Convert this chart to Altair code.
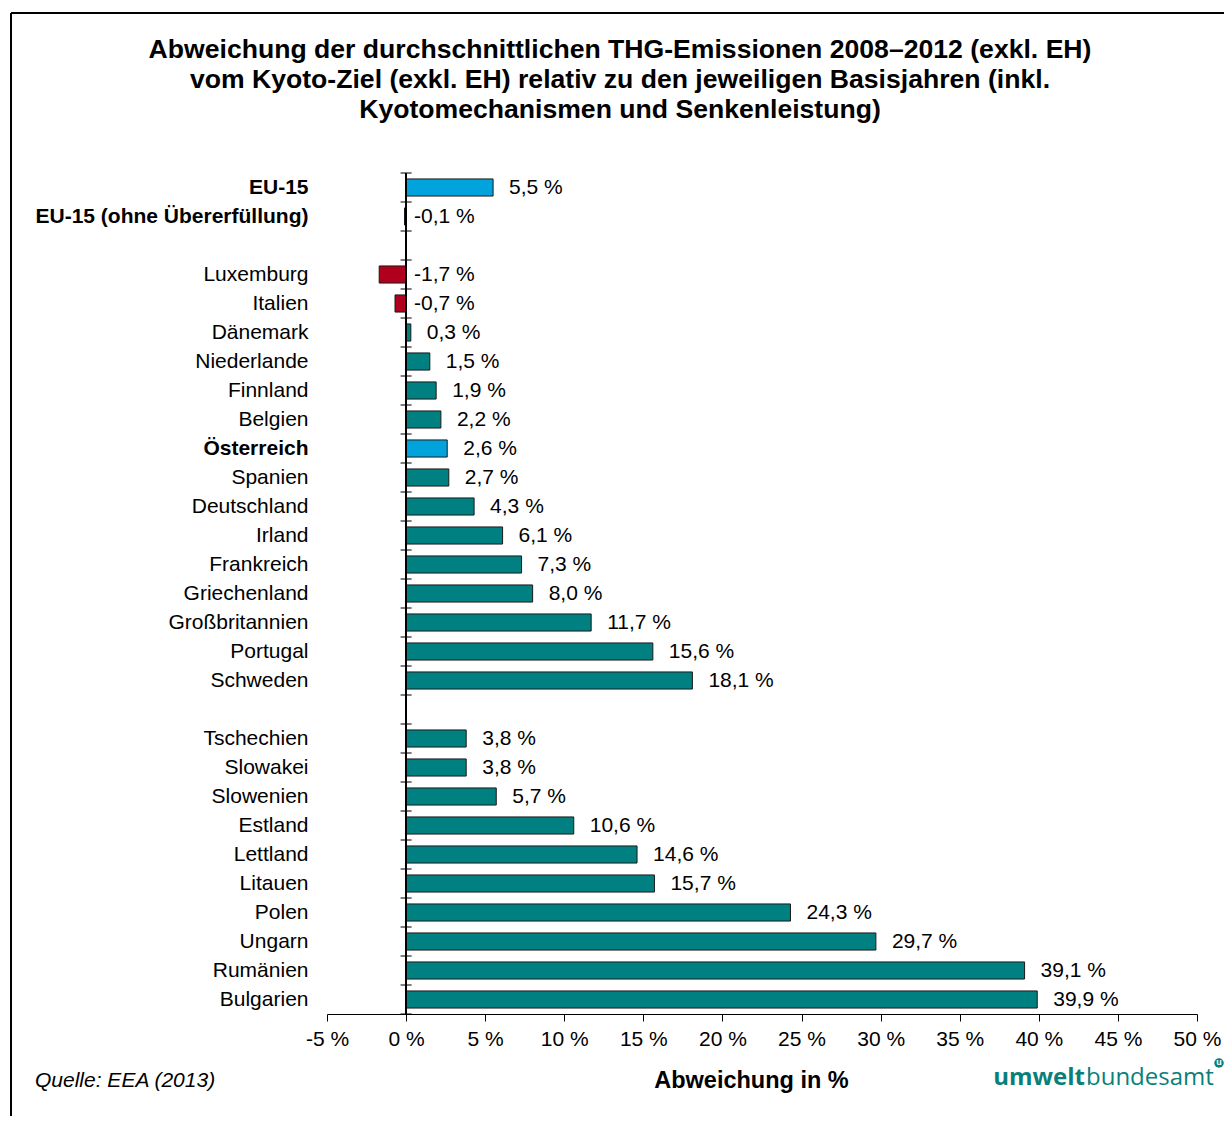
import altair as alt
import pandas as pd

# ---------------- data ----------------
categories = [
    "EU-15", "EU-15 (ohne Übererfüllung)", " ",
    "Luxemburg", "Italien", "Dänemark", "Niederlande", "Finnland", "Belgien",
    "Österreich", "Spanien", "Deutschland", "Irland", "Frankreich",
    "Griechenland", "Großbritannien", "Portugal", "Schweden", "  ",
    "Tschechien", "Slowakei", "Slowenien", "Estland", "Lettland", "Litauen",
    "Polen", "Ungarn", "Rumänien", "Bulgarien",
]
values = [
    5.5, -0.1, None,
    -1.7, -0.7, 0.3, 1.5, 1.9, 2.2,
    2.6, 2.7, 4.3, 6.1, 7.3,
    8.0, 11.7, 15.6, 18.1, None,
    3.8, 3.8, 5.7, 10.6, 14.6, 15.7,
    24.3, 29.7, 39.1, 39.9,
]
highlight = ["EU-15", "Österreich"]
bold_labels = ["EU-15", "EU-15 (ohne Übererfüllung)", "Österreich"]
x_ticks = [-5, 0, 5, 10, 15, 20, 25, 30, 35, 40, 45, 50]
title_lines = [
    "Abweichung der durchschnittlichen THG-Emissionen 2008–2012 (exkl. EH)",
    "vom Kyoto-Ziel (exkl. EH) relativ zu den jeweiligen Basisjahren (inkl.",
    "Kyotomechanismen und Senkenleistung)",
]
x_title = "Abweichung in %"
source_text = "Quelle: EEA (2013)"
logo_bold = "umwelt"
logo_light = "bundesamt"

# ---------------- styling ----------------
FONT = "Liberation Sans, Arial, sans-serif"
TEAL = "#008080"
BLUE = "#00A3DC"
RED = "#B0001E"
W, H = 870, 841

df = pd.DataFrame({"cat": categories, "val": values})
bars_df = df.dropna().copy()
bars_df["grp"] = [
    "hl" if c in highlight else ("neg" if v < 0 else "pos")
    for c, v in zip(bars_df["cat"], bars_df["val"])
]
bars_df["label"] = [f"{v:.1f}".replace(".", ",") + " %" for v in bars_df["val"]]
bars_df["lpos"] = bars_df["val"].clip(lower=0)

yscale = alt.Scale(domain=categories, paddingInner=0, paddingOuter=0)
xscale = alt.Scale(domain=[-5, 50], nice=False, zero=False)

bold_test = "indexof(" + str(bold_labels) + ", datum.value) >= 0"

x_axis = alt.Axis(
    values=x_ticks,
    labelExpr="datum.value + ' %'",
    domainColor="black",
    tickColor="black",
    tickSize=7,
    labelFontSize=21,
    labelColor="black",
    labelPadding=7,
    labelFlush=False,
    grid=False,
    title=x_title,
    titleFontSize=23.5,
    titleFontWeight="bold",
    titleColor="black",
    titleX=424,
    titleY=66,
    titleBaseline="middle",
    titleAlign="center",
)
y_axis = alt.Axis(
    title=None,
    domain=False,
    ticks=False,
    grid=False,
    labelPadding=19,
    labelFontSize=21,
    labelColor="black",
    labelLimit=400,
    labelFontWeight={
        "condition": {"test": bold_test, "value": "bold"},
        "value": "normal",
    },
)

bars = alt.Chart(bars_df).mark_bar(
    height={"band": 0.59}, stroke="#1a1a1a", strokeWidth=1
).encode(
    x=alt.X("val:Q", scale=xscale, axis=x_axis),
    x2=alt.X2(datum=0),
    y=alt.Y("cat:N", scale=yscale, sort=categories, axis=y_axis),
    color=alt.Color(
        "grp:N",
        scale=alt.Scale(domain=["pos", "neg", "hl"], range=[TEAL, RED, BLUE]),
        legend=None,
    ),
)

zero_rule = alt.Chart(bars_df).mark_rule(color="black", strokeWidth=1).encode(
    x=alt.X(datum=0, scale=xscale, axis=x_axis)
)

ticks_start = alt.Chart(df).mark_rule(color="black", strokeWidth=1).encode(
    y=alt.Y("cat:N", scale=yscale, sort=categories, bandPosition=0, axis=y_axis),
    x=alt.X(datum=-0.35, scale=xscale, axis=x_axis),
    x2=alt.X2(datum=0.35),
)
ticks_end = alt.Chart(df.tail(1)).mark_rule(color="black", strokeWidth=1).encode(
    y=alt.Y("cat:N", scale=yscale, sort=categories, bandPosition=1, axis=y_axis),
    x=alt.X(datum=-0.35, scale=xscale, axis=x_axis),
    x2=alt.X2(datum=0.35),
)

pos_labels = alt.Chart(bars_df[bars_df["val"] >= 0]).mark_text(
    align="left", baseline="middle", dx=16, fontSize=21, color="black"
).encode(
    x=alt.X("lpos:Q", scale=xscale, axis=x_axis),
    y=alt.Y("cat:N", scale=yscale, sort=categories, axis=y_axis),
    text="label:N",
)
neg_labels = alt.Chart(bars_df[bars_df["val"] < 0]).mark_text(
    align="left", baseline="middle", dx=8, fontSize=21, color="black"
).encode(
    x=alt.X("lpos:Q", scale=xscale, axis=x_axis),
    y=alt.Y("cat:N", scale=yscale, sort=categories, axis=y_axis),
    text="label:N",
)

# title lines
title_layers = []
for i, line in enumerate(title_lines):
    title_layers.append(
        alt.Chart(pd.DataFrame({"t": [line]})).mark_text(
            align="center", baseline="middle", fontSize=26.6, fontWeight="bold",
            color="black",
        ).encode(x=alt.value(293), y=alt.value(-123 + 30 * i), text="t:N")
    )

one = pd.DataFrame({"a": [0]})
frame_left = alt.Chart(one).mark_rule(color="black", strokeWidth=2).encode(
    x=alt.value(-316), y=alt.value(-160), y2=alt.value(943)
)
frame_top = alt.Chart(one).mark_rule(color="black", strokeWidth=2).encode(
    x=alt.value(-316), x2=alt.value(897), y=alt.value(-160)
)

source = alt.Chart(pd.DataFrame({"t": [source_text]})).mark_text(
    align="left", baseline="middle", fontSize=21, fontStyle="italic", color="black"
).encode(x=alt.value(-292), y=alt.value(908), text="t:N")

logo1 = alt.Chart(pd.DataFrame({"t": [logo_bold]})).mark_text(
    align="right", baseline="middle", fontSize=24, fontWeight="bold",
    color="#0a7f7a", font="Open Sans",
).encode(x=alt.value(758), y=alt.value(905), text="t:N")
logo2 = alt.Chart(pd.DataFrame({"t": [logo_light]})).mark_text(
    align="left", baseline="middle", fontSize=24, fontWeight="normal",
    color="#0a7f7a", font="Open Sans",
).encode(x=alt.value(759), y=alt.value(905), text="t:N")
logo_dot = alt.Chart(one).mark_point(
    filled=True, size=90, color="#0a7f7a", opacity=1, shape="circle"
).encode(x=alt.value(892), y=alt.value(890))
logo_u = alt.Chart(pd.DataFrame({"t": ["u"]})).mark_text(
    align="center", baseline="middle", fontSize=9, fontWeight="bold", color="white"
).encode(x=alt.value(892), y=alt.value(889), text="t:N")

chart = alt.layer(
    frame_left, frame_top,
    bars, zero_rule, ticks_start, ticks_end, pos_labels, neg_labels,
    *title_layers, source, logo1, logo2, logo_dot, logo_u,
).properties(
    width=W,
    height=H,
    padding={"left": 319, "top": 165, "right": 27, "bottom": 102},
    autosize=alt.AutoSizeParams(type="none"),
    background="white",
).configure(font=FONT).configure_view(stroke=None)

chart.save("out.html", embed_options={"renderer": "svg", "actions": False})
